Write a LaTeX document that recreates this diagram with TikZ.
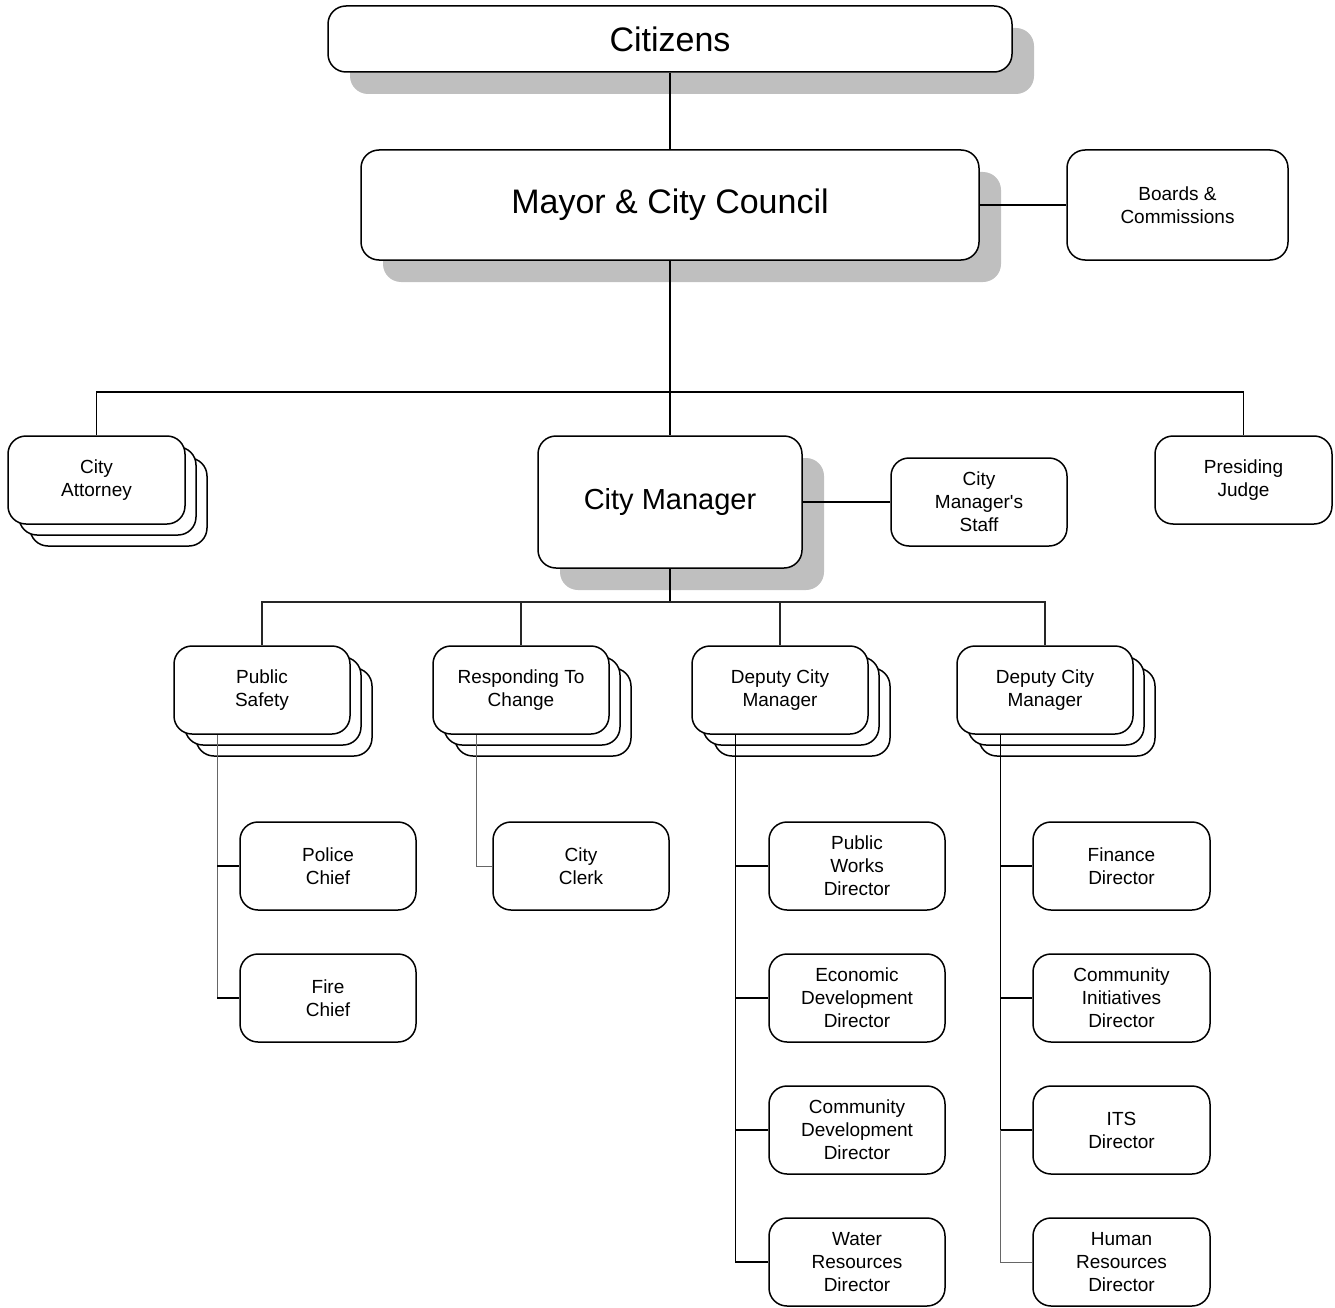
\documentclass[tikz,border=0pt]{standalone}
\usepackage{fontspec}
\setmainfont{Liberation Sans}
\usetikzlibrary{positioning, shadows}

\begin{document}
\begin{tikzpicture}[x=1pt, y=-1pt, on grid,
    box/.style={draw, line width=1.5pt, rounded corners=18pt, fill=white, align=center,
        inner sep=0pt, minimum width=176pt, minimum height=88pt,
        font=\fontsize{19}{23}\selectfont},
    greyshadow/.style={drop shadow={shadow xshift=22pt, shadow yshift=-22pt, fill=black!25, opacity=1}},
    stack/.style={
        copy shadow={shadow xshift=22pt, shadow yshift=-22pt, draw=black, line width=1.5pt, fill=white},
        copy shadow={shadow xshift=11pt, shadow yshift=-11pt, draw=black, line width=1.5pt, fill=white}},
    link/.style={line width=1.5pt},
    buslink/.style={line width=1.2pt, black!85},
    sublink/.style={line width=1pt, black!60}]

    \useasboundingbox (0,0) rectangle (1335,1308);

    % Nodes
    \node[box, greyshadow, minimum width=684pt, minimum height=66pt,
        font=\fontsize{34}{40}\selectfont] (citizens) at (670,39) {Citizens};
    \node[box, greyshadow, minimum width=618pt, minimum height=110pt,
        font=\fontsize{34}{40}\selectfont] (mayor) [below=166pt of citizens] {Mayor \& City Council};
    \node[box, minimum width=221pt, minimum height=110pt] (boards) [right=507.5pt of mayor] {Boards \&\\Commissions};
    \node[box, greyshadow, minimum width=264pt, minimum height=132pt,
        font=\fontsize{29}{35}\selectfont] (manager) [below=297pt of mayor] {City Manager};
    \node[box] (staff) [right=309pt of manager] {City\\Manager\textquotesingle s\\Staff};
    \node[box, stack, minimum width=177pt] (attorney) at (96.5,480) {City\\Attorney};
    \node[box, minimum width=177pt] (judge) at (1243.5,480) {Presiding\\Judge};

    \node[box, stack] (safety) at (262,690) {Public\\Safety};
    \node[box, stack] (change) at (521,690) {Responding To\\Change};
    \node[box, stack] (dep1) at (780,690) {Deputy City\\Manager};
    \node[box, stack] (dep2) at (1045,690) {Deputy City\\Manager};

    \node[box] (police) [below right=176pt and 66pt of safety] {Police\\Chief};
    \node[box] (fire) [below=132pt of police] {Fire\\Chief};
    \node[box] (clerk) [below right=176pt and 60pt of change] {City\\Clerk};

    \node[box] (works) [below right=176pt and 77pt of dep1] {Public\\Works\\Director};
    \node[box] (econ) [below=132pt of works] {Economic\\Development\\Director};
    \node[box] (commdev) [below=132pt of econ] {Community\\Development\\Director};
    \node[box] (water) [below=132pt of commdev] {Water\\Resources\\Director};

    \node[box, minimum width=177pt] (finance) [below right=176pt and 76.5pt of dep2] {Finance\\Director};
    \node[box, minimum width=177pt] (initiatives) [below=132pt of finance] {Community\\Initiatives\\Director};
    \node[box, minimum width=177pt] (its) [below=132pt of initiatives] {ITS\\Director};
    \node[box, minimum width=177pt] (hr) [below=132pt of its] {Human\\Resources\\Director};

    \coordinate (top bus) at (670,392);
    \coordinate (mid bus) at (670,602);
    \path (safety.south west) ++(44,0) coordinate (safety spine);
    \path (change.south west) ++(44,0) coordinate (change spine);
    \path (dep1.south west) ++(44,0) coordinate (dep1 spine);
    \path (dep2.south west) ++(44,0) coordinate (dep2 spine);

    % Edges (Lines)
    \draw[link] (citizens) -- (mayor);
    \draw[link] (mayor) -- (boards);
    \draw[link] (mayor) -- (manager);
    \draw[link] (attorney) |- (top bus) -| (judge);
    \draw[link] (manager) -- (staff);
    \draw[link] (manager) -- (mid bus);
    \draw[buslink] (safety) |- (mid bus) -| (dep2);
    \draw[buslink] (change) -- (change |- mid bus);
    \draw[buslink] (dep1) -- (dep1 |- mid bus);

    \draw[sublink] (safety spine) -- (safety spine |- fire);
    \draw[link] (safety spine |- police) -- (police);
    \draw[link] (safety spine |- fire) -- (fire);
    \draw[sublink] (change spine) |- (clerk);

    \draw[link] (dep1 spine) |- (water);
    \draw[link] (dep1 spine |- works) -- (works);
    \draw[link] (dep1 spine |- econ) -- (econ);
    \draw[link] (dep1 spine |- commdev) -- (commdev);

    \draw[link] (dep2 spine) |- (its);
    \draw[link] (dep2 spine |- finance) -- (finance);
    \draw[link] (dep2 spine |- initiatives) -- (initiatives);
    \draw[sublink] (dep2 spine |- its) |- (hr);

\end{tikzpicture}
\end{document}
